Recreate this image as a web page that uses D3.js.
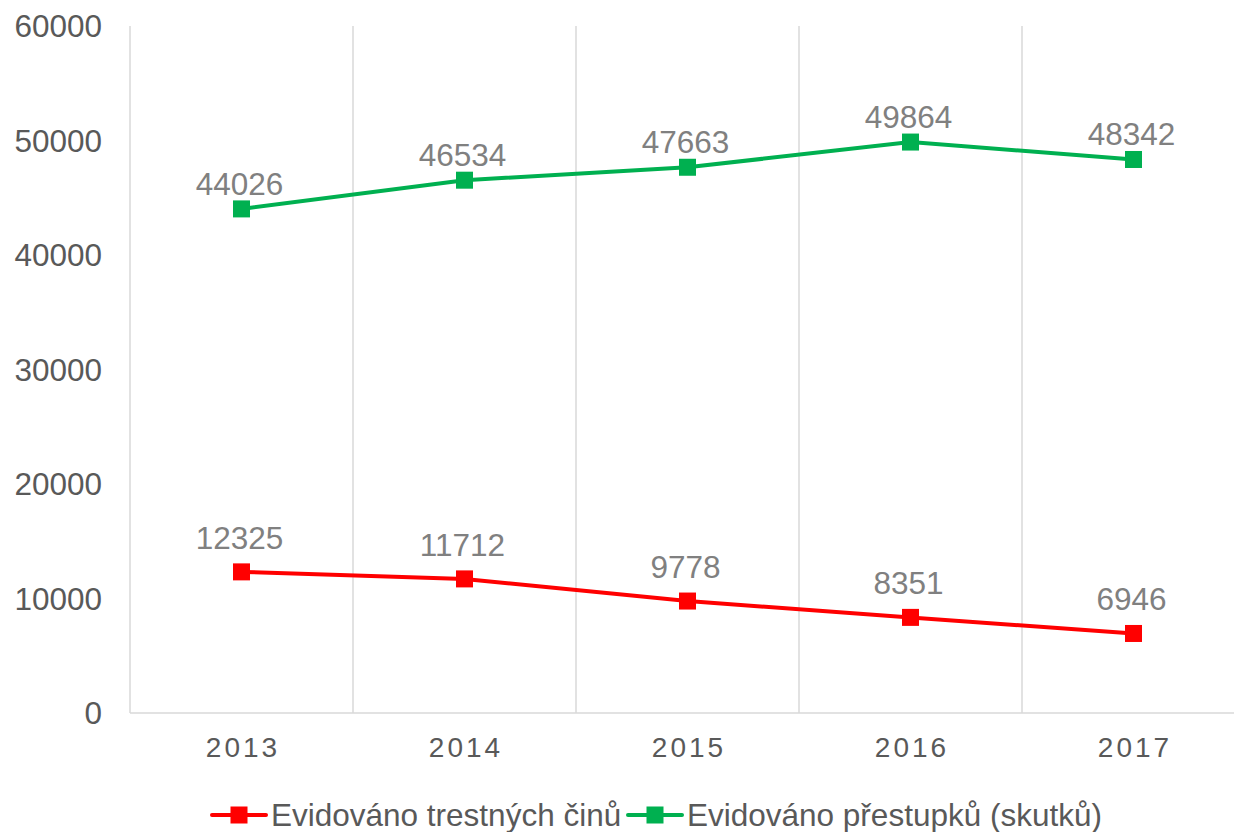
<!DOCTYPE html>
<html>
<head>
<meta charset="utf-8">
<script src="https://cdn.jsdelivr.net/npm/d3@7"></script>
<style>
body { margin: 0; background: #fff; }
text { font-family: "Liberation Sans", Arial, sans-serif; }
</style>
</head>
<body>
<div id="chart"></div>
<script>
var years = ["2013", "2014", "2015", "2016", "2017"];
var crimes = [12325, 11712, 9778, 8351, 6946];
var offences = [44026, 46534, 47663, 49864, 48342];
var yTicks = [0, 10000, 20000, 30000, 40000, 50000, 60000];
var seriesNames = ["Evidováno trestných činů", "Evidováno přestupků (skutků)"];
var seriesColors = ["#ff0000", "#00b050"];

var w = 1234, h = 832;
var mLeft = 130, mRight = 1245, mTop = 26, mBottom = 713;
// label lift above marker, per series
var labelLift = [23, 14];

var svg = d3.select("#chart").append("svg")
    .attr("width", w)
    .attr("height", h);

var x = d3.scaleBand().domain(years).range([mLeft, mRight]);
var y = d3.scaleLinear().domain([0, 60000]).range([mBottom, mTop]);

// vertical gridlines between categories
var bounds = years.map(function(d) { return x(d); }).slice(1);
svg.append("g").selectAll("line")
    .data(bounds)
    .enter().append("line")
    .attr("x1", function(d) { return d; })
    .attr("x2", function(d) { return d; })
    .attr("y1", mTop)
    .attr("y2", mBottom)
    .attr("stroke", "#d9d9d9")
    .attr("stroke-width", 1.5);

// axis lines
svg.append("line")
    .attr("x1", mLeft).attr("x2", mLeft)
    .attr("y1", mTop).attr("y2", mBottom)
    .attr("stroke", "#d9d9d9").attr("stroke-width", 1.5);
svg.append("line")
    .attr("x1", mLeft).attr("x2", w)
    .attr("y1", mBottom).attr("y2", mBottom)
    .attr("stroke", "#d9d9d9").attr("stroke-width", 1.5);

// y tick labels
svg.append("g").selectAll("text")
    .data(yTicks)
    .enter().append("text")
    .attr("x", 102)
    .attr("y", function(d) { return y(d); })
    .attr("dy", "0.35em")
    .attr("text-anchor", "end")
    .attr("font-size", 31.5)
    .attr("fill", "#595959")
    .text(function(d) { return d; });

// x tick labels
svg.append("g").selectAll("text")
    .data(years)
    .enter().append("text")
    .attr("x", function(d) { return x(d) + x.bandwidth() / 2 + 1.5; })
    .attr("y", 757)
    .attr("text-anchor", "middle")
    .attr("font-size", 28)
    .attr("letter-spacing", 3)
    .attr("fill", "#595959")
    .text(function(d) { return d; });

var line = d3.line()
    .x(function(d, i) { return x(years[i]) + x.bandwidth() / 2; })
    .y(function(d) { return y(d); });

[crimes, offences].forEach(function(vals, k) {
    var g = svg.append("g");
    g.append("path")
        .datum(vals)
        .attr("d", line)
        .attr("fill", "none")
        .attr("stroke", seriesColors[k])
        .attr("stroke-width", 4);
    g.selectAll("rect")
        .data(vals)
        .enter().append("rect")
        .attr("x", function(d, i) { return x(years[i]) + x.bandwidth() / 2 - 8.5; })
        .attr("y", function(d) { return y(d) - 8.5; })
        .attr("width", 17)
        .attr("height", 17)
        .attr("fill", seriesColors[k]);
    g.selectAll("text")
        .data(vals)
        .enter().append("text")
        .attr("x", function(d, i) { return x(years[i]) + x.bandwidth() / 2 - 2; })
        .attr("y", function(d) { return y(d) - labelLift[k]; })
        .attr("text-anchor", "middle")
        .attr("font-size", 31.5)
        .attr("fill", "#808080")
        .text(function(d) { return d; });
});

// legend
var legendX = [212, 628];
var legend = svg.append("g").selectAll("g")
    .data(seriesNames)
    .enter().append("g")
    .attr("transform", function(d, i) { return "translate(" + legendX[i] + ",815)"; });
legend.append("line")
    .attr("x1", 0).attr("x2", 54)
    .attr("stroke", function(d, i) { return seriesColors[i]; })
    .attr("stroke-width", 4)
    .attr("stroke-linecap", "round");
legend.append("rect")
    .attr("x", 18.5).attr("y", -8.5)
    .attr("width", 17).attr("height", 17)
    .attr("fill", function(d, i) { return seriesColors[i]; });
legend.append("text")
    .attr("x", 59)
    .attr("dy", "0.35em")
    .attr("font-size", 31.5)
    .attr("fill", "#595959")
    .text(function(d) { return d; });
</script>
</body>
</html>
